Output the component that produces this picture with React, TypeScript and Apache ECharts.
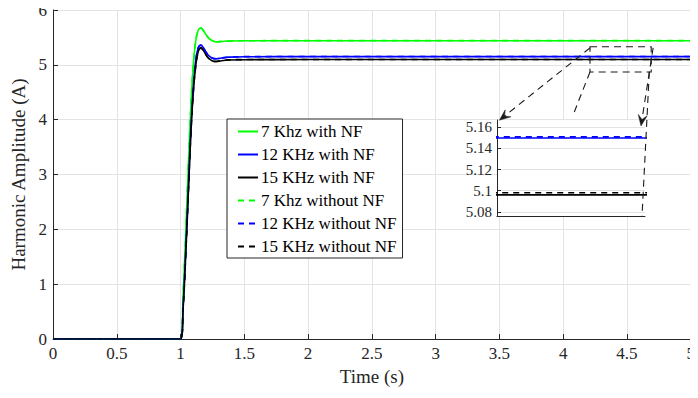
import React, { useEffect, useRef } from "react";
import * as echarts from "echarts";

// ---- data ----
const TIME = [0, 1.0, 1.02, 1.04, 1.06, 1.08, 1.1, 1.12, 1.14, 1.16, 1.18, 1.2, 1.22, 1.25, 1.28, 1.32, 1.38, 1.5, 2, 3, 4, 5];

const G7_NF = [0, 0, 0.8, 1.9, 3.1, 4.2, 5.0, 5.45, 5.64, 5.67, 5.62, 5.55, 5.49, 5.44, 5.42, 5.425, 5.435, 5.44, 5.44, 5.44, 5.44, 5.44];
const B12_NF = [0, 0, 0.6, 1.6, 2.7, 3.8, 4.6, 5.1, 5.32, 5.36, 5.31, 5.23, 5.17, 5.12, 5.11, 5.125, 5.14, 5.148, 5.15, 5.15, 5.15, 5.15];
const K15_NF = [0, 0, 0.55, 1.5, 2.6, 3.7, 4.5, 5.0, 5.25, 5.31, 5.26, 5.18, 5.12, 5.07, 5.06, 5.075, 5.088, 5.094, 5.096, 5.096, 5.096, 5.096];
const G7_NONF = [0, 0, 0.8, 1.9, 3.1, 4.2, 5.0, 5.45, 5.64, 5.67, 5.62, 5.55, 5.49, 5.44, 5.42, 5.425, 5.435, 5.44, 5.441, 5.441, 5.441, 5.441];
const B12_NONF = [0, 0, 0.6, 1.6, 2.7, 3.8, 4.6, 5.1, 5.32, 5.36, 5.31, 5.23, 5.17, 5.12, 5.11, 5.125, 5.14, 5.149, 5.151, 5.151, 5.151, 5.151];
const K15_NONF = [0, 0, 0.55, 1.5, 2.6, 3.7, 4.5, 5.0, 5.25, 5.31, 5.26, 5.18, 5.12, 5.07, 5.06, 5.076, 5.09, 5.096, 5.098, 5.098, 5.098, 5.098];

const SERIES_NAMES = [
  "7 Khz with NF",
  "12 KHz with NF",
  "15 KHz with NF",
  "7 Khz without NF",
  "12 KHz without NF",
  "15 KHz without NF",
];
const SERIES_VALUES = [G7_NF, B12_NF, K15_NF, G7_NONF, B12_NONF, K15_NONF];
const SERIES_COLORS = ["#00ff00", "#0000ff", "#000000", "#00ff00", "#0000ff", "#000000"];
const SERIES_DASHED = [false, false, false, true, true, true];

const X_MIN = 0, X_MAX = 5, X_STEP = 0.5;
const Y_MIN = 0, Y_MAX = 6, Y_STEP = 1;

// inset (zoom) axis
const INSET_X = [4.2, 4.7];
const INSET_Y = [5.076, 5.167];
const INSET_TICKS = [5.08, 5.1, 5.12, 5.14, 5.16];

// annotation geometry in main-axis data coordinates
const ZOOM_BOX = { x0: 4.21, x1: 4.69, y0: 4.87, y1: 5.33 };
const ANNOT_LINES: { from: [number, number]; to: [number, number]; arrow: boolean }[] = [
  { from: [4.21, 5.31], to: [3.5, 3.99], arrow: true },
  { from: [4.21, 4.87], to: [4.087, 4.14], arrow: false },
  { from: [4.705, 5.31], to: [4.61, 3.885], arrow: true },
  { from: [4.675, 4.87], to: [4.618, 2.243], arrow: false },
];

const FONT = "'Liberation Serif', 'Times New Roman', serif";
const TXT = "#262626";
const GRIDC = "#e3e3e3";

const INSET_GRID = { left: 497, top: 120, width: 148, height: 96 };

export default function App() {
  const ref = useRef<HTMLDivElement>(null);

  useEffect(() => {
    if (!ref.current) return;
    const chart = echarts.init(ref.current, undefined, { renderer: "svg" });

    const mainSeries = SERIES_NAMES.map((name, i) => ({
      name,
      type: "line",
      xAxisIndex: 0,
      yAxisIndex: 0,
      data: TIME.map((t, k) => [t, SERIES_VALUES[i][k]]),
      showSymbol: false,
      symbol: "none",
      smooth: 0.35,
      z: 2,
      lineStyle: {
        color: SERIES_COLORS[i],
        width: 1.6,
        type: SERIES_DASHED[i] ? [6, 5] : "solid",
      },
      itemStyle: { color: SERIES_COLORS[i] },
    }));

    const insetSeries = SERIES_NAMES.map((name, i) => ({
      name: "inset " + name,
      type: "line",
      xAxisIndex: 1,
      yAxisIndex: 1,
      data: TIME.map((t, k) => [t, SERIES_VALUES[i][k]]),
      showSymbol: false,
      symbol: "none",
      clip: true,
      z: 6,
      lineStyle: {
        color: SERIES_COLORS[i],
        width: 1.6,
        type: SERIES_DASHED[i] ? [6, 5] : "solid",
      },
    }));

    chart.setOption({
      animation: false,
      backgroundColor: "#ffffff",
      textStyle: { fontFamily: FONT },
      grid: [
        { left: 53, top: 10, right: 4, bottom: 59, containLabel: false },
        { ...INSET_GRID, containLabel: false },
      ],
      legend: {
        data: SERIES_NAMES,
        orient: "vertical",
        left: 227,
        top: 119,
        padding: [4, 6, 3, 10],
        itemWidth: 20,
        itemHeight: 15,
        itemGap: 6,
        backgroundColor: "#ffffff",
        borderColor: TXT,
        borderWidth: 1,
        borderRadius: 0,
        selectedMode: false,
        itemStyle: { opacity: 0, borderWidth: 0 },
        textStyle: { fontFamily: FONT, fontSize: 17, lineHeight: 15, color: "#000", padding: [0, 0, 0, -2] },
      },
      xAxis: [
        {
          type: "value",
          gridIndex: 0,
          min: X_MIN,
          max: X_MAX,
          interval: X_STEP,
          name: "Time (s)",
          nameLocation: "middle",
          nameGap: 26,
          nameTextStyle: { fontFamily: FONT, fontSize: 19, color: TXT },
          axisLine: { show: true, onZero: false, lineStyle: { color: TXT, width: 1 } },
          axisTick: { show: true, inside: true, length: 5, lineStyle: { color: TXT } },
          axisLabel: { fontFamily: FONT, fontSize: 17, color: TXT, margin: 6 },
          splitLine: { show: true, lineStyle: { color: GRIDC, width: 1 } },
        },
        {
          type: "value",
          gridIndex: 1,
          min: INSET_X[0],
          max: INSET_X[1],
          z: 5,
          axisLine: { show: true, onZero: false, lineStyle: { color: TXT, width: 1 } },
          axisTick: { show: false },
          axisLabel: { show: false },
          splitLine: { show: false },
        },
      ],
      yAxis: [
        {
          type: "value",
          gridIndex: 0,
          min: Y_MIN,
          max: Y_MAX,
          interval: Y_STEP,
          name: "Harmonic Amplitude (A)",
          nameLocation: "middle",
          nameGap: 25,
          nameTextStyle: { fontFamily: FONT, fontSize: 19, color: TXT },
          axisLine: { show: true, onZero: false, lineStyle: { color: TXT, width: 1 } },
          axisTick: { show: true, inside: true, length: 5, lineStyle: { color: TXT } },
          axisLabel: { fontFamily: FONT, fontSize: 17, color: TXT, margin: 6 },
          splitLine: { show: true, lineStyle: { color: GRIDC, width: 1 } },
        },
        {
          type: "value",
          gridIndex: 1,
          min: INSET_Y[0],
          max: INSET_Y[1],
          z: 5,
          axisLine: { show: true, onZero: false, lineStyle: { color: TXT, width: 1 } },
          axisTick: { show: true, inside: true, length: 4, customValues: INSET_TICKS, lineStyle: { color: TXT } },
          axisLabel: { fontFamily: FONT, fontSize: 15, color: TXT, margin: 5, customValues: INSET_TICKS },
          splitLine: { show: true, lineStyle: { color: GRIDC, width: 1 } },
        },
      ],
      series: [...mainSeries, ...insetSeries],
    });

    // annotations computed through the main axes
    const P = (x: number, y: number) => chart.convertToPixel({ gridIndex: 0 }, [x, y]) as number[];
    const a = P(ZOOM_BOX.x0, ZOOM_BOX.y1);
    const b = P(ZOOM_BOX.x1, ZOOM_BOX.y0);
    const STROKE = "#1a1a1a";
    const dash = [7, 5];
    const elements: any[] = [
      {
        type: "rect",
        z: 4,
        silent: true,
        shape: { x: INSET_GRID.left, y: INSET_GRID.top, width: INSET_GRID.width, height: INSET_GRID.height },
        style: { fill: "#ffffff" },
      },
      {
        type: "rect",
        z: 20,
        silent: true,
        shape: { x: a[0], y: a[1], width: b[0] - a[0], height: b[1] - a[1] },
        style: { fill: "none", stroke: STROKE, lineWidth: 1.1, lineDash: dash },
      },
    ];
    ANNOT_LINES.forEach((l) => {
      const p0 = P(l.from[0], l.from[1]);
      const p1 = P(l.to[0], l.to[1]);
      const dx = p1[0] - p0[0], dy = p1[1] - p0[1];
      const len = Math.hypot(dx, dy) || 1;
      const ux = dx / len, uy = dy / len;
      const nx = -uy, ny = ux;
      const L = 11, W = 4.5;
      const end = l.arrow ? [p1[0] - ux * L * 0.6, p1[1] - uy * L * 0.6] : p1;
      elements.push({
        type: "line",
        z: 20,
        silent: true,
        shape: { x1: p0[0], y1: p0[1], x2: end[0], y2: end[1] },
        style: { stroke: STROKE, lineWidth: 1.1, lineDash: dash },
      });
      if (l.arrow) {
        const bx = p1[0] - ux * L, by = p1[1] - uy * L;
        const notch = [p1[0] - ux * L * 0.6, p1[1] - uy * L * 0.6];
        elements.push({
          type: "polygon",
          z: 21,
          silent: true,
          shape: {
            points: [
              [p1[0], p1[1]],
              [bx + nx * W, by + ny * W],
              notch,
              [bx - nx * W, by - ny * W],
            ],
          },
          style: { fill: STROKE, stroke: STROKE, lineWidth: 0.5 },
        });
      }
    });
    chart.setOption({ graphic: { elements } });

    return () => chart.dispose();
  }, []);

  return <div ref={ref} style={{ width: 698, height: 398, margin: -8 }} />;
}
